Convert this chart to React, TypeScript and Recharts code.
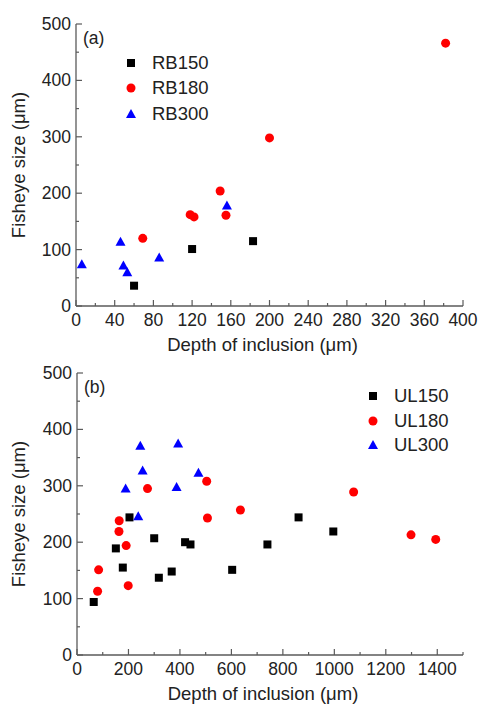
import { ScatterChart, Scatter, XAxis, YAxis, Legend } from 'recharts';

// (a) rotating bending
const rb150 = [
  { x: 60, y: 36 },
  { x: 120, y: 101 },
  { x: 183, y: 115 },
];
const rb180 = [
  { x: 69, y: 120 },
  { x: 118, y: 162 },
  { x: 122, y: 158 },
  { x: 149, y: 204 },
  { x: 155, y: 161 },
  { x: 200, y: 298 },
  { x: 382, y: 466 },
];
const rb300 = [
  { x: 6, y: 74 },
  { x: 46, y: 114 },
  { x: 49, y: 72 },
  { x: 53, y: 60 },
  { x: 86, y: 86 },
  { x: 156, y: 178 },
];

// (b) ultrasonic
const ul150 = [
  { x: 65, y: 94 },
  { x: 151, y: 189 },
  { x: 178, y: 155 },
  { x: 204, y: 244 },
  { x: 300, y: 207 },
  { x: 318, y: 137 },
  { x: 368, y: 148 },
  { x: 420, y: 200 },
  { x: 441, y: 196 },
  { x: 603, y: 151 },
  { x: 740, y: 196 },
  { x: 861, y: 244 },
  { x: 996, y: 219 },
];
const ul180 = [
  { x: 80, y: 113 },
  { x: 84, y: 151 },
  { x: 163, y: 219 },
  { x: 164, y: 238 },
  { x: 191, y: 194 },
  { x: 199, y: 123 },
  { x: 274, y: 295 },
  { x: 504, y: 308 },
  { x: 507, y: 243 },
  { x: 635, y: 257 },
  { x: 1075, y: 289 },
  { x: 1298, y: 213 },
  { x: 1394, y: 205 },
];
const ul300 = [
  { x: 189, y: 295 },
  { x: 238, y: 246 },
  { x: 246, y: 371 },
  { x: 255, y: 327 },
  { x: 387, y: 298 },
  { x: 393, y: 375 },
  { x: 472, y: 323 },
];

const xTicksA = [0, 20, 40, 60, 80, 100, 120, 140, 160, 180, 200, 220, 240, 260, 280, 300, 320, 340, 360, 380, 400];
const xTicksB = [0, 100, 200, 300, 400, 500, 600, 700, 800, 900, 1000, 1100, 1200, 1300, 1400, 1500];
const yTicks = [0, 50, 100, 150, 200, 250, 300, 350, 400, 450, 500];

const AXIS = '#5a5a5a';
const TEXT = '#222';
const FONT = 17.5;

type Kind = 'square' | 'circle' | 'triangle';
type Series = { name: string; data: { x: number; y: number }[]; kind: Kind };

const COLORS: Record<Kind, string> = { square: '#000000', circle: '#ff0000', triangle: '#0000ff' };

const Marker = ({ kind, cx, cy }: { kind: Kind; cx: number; cy: number }) => {
  if (kind === 'square') return <rect x={cx - 4} y={cy - 4} width={8} height={8} fill={COLORS.square} />;
  if (kind === 'circle') return <circle cx={cx} cy={cy} r={4.5} fill={COLORS.circle} />;
  return <polygon points={`${cx},${cy - 5} ${cx - 5},${cy + 4} ${cx + 5},${cy + 4}`} fill={COLORS.triangle} />;
};

const XTick = (props: any) => {
  const { x, y, payload, step } = props;
  const major = payload.value % step === 0;
  return (
    <g>
      <line x1={x} x2={x} y1={y} y2={y - (major ? 6 : 3)} stroke={AXIS} strokeWidth={1.2} />
      {major && (
        <text x={x} y={y + 20} textAnchor="middle" fill={TEXT} fontSize={FONT}>
          {payload.value}
        </text>
      )}
    </g>
  );
};

const YTick = (props: any) => {
  const { x, y, payload } = props;
  const major = payload.value % 100 === 0;
  return (
    <g>
      <line x1={x} x2={x + (major ? 6 : 3)} y1={y} y2={y} stroke={AXIS} strokeWidth={1.2} />
      {major && (
        <text x={x - 5} y={y + 6} textAnchor="end" fill={TEXT} fontSize={FONT}>
          {payload.value}
        </text>
      )}
    </g>
  );
};

type PanelProps = {
  top: number;
  height: number;
  marginTop: number;
  marginLeft: number;
  xMax: number;
  xTicks: number[];
  xStep: number;
  series: Series[];
  tag: string;
  tagTop: number;
  legendLeft: number;
  legendTop: number;
  rowH: number;
};

const Panel = (p: PanelProps) => {
  const xAxisH = p.height - p.marginTop - 282;
  return (
    <div style={{ position: 'absolute', left: 0, top: p.top, width: 479, height: p.height }}>
      <ScatterChart
        width={479}
        height={p.height}
        margin={{ top: p.marginTop, right: 16, bottom: 0, left: p.marginLeft }}
      >
        <XAxis
          dataKey="x"
          type="number"
          domain={[0, p.xMax]}
          ticks={p.xTicks}
          interval={0}
          height={xAxisH}
          tickSize={0}
          tickMargin={0}
          tickLine={false}
          axisLine={{ stroke: AXIS, strokeWidth: 1.3 }}
          tick={(t: any) => <XTick {...t} step={p.xStep} />}
          label={{ value: 'Depth of inclusion (μm)', position: 'insideBottom', offset: 5, fill: TEXT, fontSize: 18.5, dx: -7 }}
        />
        <YAxis
          dataKey="y"
          type="number"
          domain={[0, 500]}
          ticks={yTicks}
          interval={0}
          width={76}
          tickSize={0}
          tickMargin={0}
          tickLine={false}
          axisLine={{ stroke: AXIS, strokeWidth: 1.3 }}
          tick={(t: any) => <YTick {...t} />}
          label={{
            value: 'Fisheye size (μm)',
            angle: -90,
            position: 'insideLeft',
            offset: 18 - p.marginLeft,
            fill: TEXT,
            fontSize: 18.5,
            style: { textAnchor: 'middle' },
          }}
        />
        <XAxis
          xAxisId="top"
          orientation="top"
          type="number"
          domain={[0, p.xMax]}
          height={0}
          tick={false}
          tickLine={false}
          axisLine={{ stroke: AXIS, strokeWidth: 1.3 }}
        />
        <YAxis
          yAxisId="right"
          orientation="right"
          type="number"
          domain={[0, 500]}
          width={0}
          tick={false}
          tickLine={false}
          axisLine={{ stroke: AXIS, strokeWidth: 1.3 }}
        />
        <Legend
          layout="vertical"
          align="center"
          verticalAlign="middle"
          wrapperStyle={{ left: p.legendLeft, top: p.legendTop, width: 130 }}
          content={() => (
            <div style={{ fontSize: 18.5, color: TEXT }}>
              {p.series.map((s) => (
                <div key={s.name} style={{ display: 'flex', alignItems: 'center', height: p.rowH }}>
                  <svg width={10} height={10} style={{ display: 'block' }}>
                    <Marker kind={s.kind} cx={5} cy={5} />
                  </svg>
                  <span style={{ marginLeft: 16 }}>{s.name}</span>
                </div>
              ))}
            </div>
          )}
        />
        {p.series.map((s) => (
          <Scatter
            key={s.name}
            name={s.name}
            data={s.data}
            isAnimationActive={false}
            shape={(d: any) => <Marker kind={s.kind} cx={d.cx} cy={d.cy} />}
          />
        ))}
      </ScatterChart>
      <span
        style={{
          position: 'absolute',
          left: p.marginLeft + 83,
          top: p.tagTop,
          fontSize: FONT,
          lineHeight: '20px',
          color: TEXT,
        }}
      >
        {p.tag}
      </span>
    </div>
  );
};

const seriesA: Series[] = [
  { name: 'RB150', data: rb150, kind: 'square' },
  { name: 'RB180', data: rb180, kind: 'circle' },
  { name: 'RB300', data: rb300, kind: 'triangle' },
];
const seriesB: Series[] = [
  { name: 'UL150', data: ul150, kind: 'square' },
  { name: 'UL180', data: ul180, kind: 'circle' },
  { name: 'UL300', data: ul300, kind: 'triangle' },
];

export default function App() {
  return (
    <div
      style={{
        position: 'absolute',
        left: 0,
        top: 0,
        width: 479,
        height: 705,
        background: '#fff',
        fontFamily: '"Liberation Sans", Arial, sans-serif',
      }}
    >
      <Panel
        top={0}
        height={356}
        marginTop={24}
        marginLeft={0}
        xMax={400}
        xTicks={xTicksA}
        xStep={40}
        series={seriesA}
        tag="(a)"
        tagTop={28}
        legendLeft={126}
        legendTop={50}
        rowH={25.5}
      />
      <Panel
        top={340}
        height={365}
        marginTop={33}
        marginLeft={1}
        xMax={1500}
        xTicks={xTicksB}
        xStep={200}
        series={seriesB}
        tag="(b)"
        tagTop={37}
        legendLeft={368}
        legendTop={44}
        rowH={24.5}
      />
    </div>
  );
}
